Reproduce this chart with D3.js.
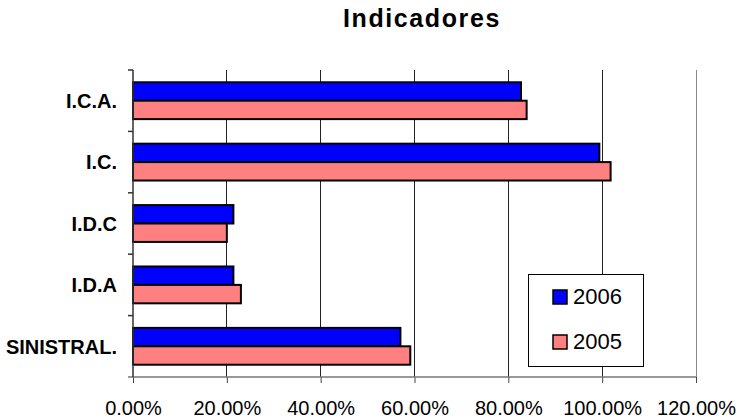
<!DOCTYPE html>
<html>
<head>
<meta charset="utf-8">
<script src="https://cdn.jsdelivr.net/npm/d3@7/dist/d3.min.js"></script>
<style>
  body { margin: 0; background: #fff; }
  svg { display: block; font-family: "Liberation Sans", Arial, sans-serif; }
</style>
</head>
<body>
<svg id="chart" width="742" height="419"></svg>
<script>
const categories = ["I.C.A.", "I.C.", "I.D.C", "I.D.A", "SINISTRAL."];
const seriesNames = ["2006", "2005"];
const values2006 = [0.827, 0.994, 0.214, 0.214, 0.570];
const values2005 = [0.839, 1.018, 0.200, 0.230, 0.591];
const tickValues = [0, 0.2, 0.4, 0.6, 0.8, 1.0, 1.2];
const tickLabels = ["0.00%", "20.00%", "40.00%", "60.00%", "80.00%", "100.00%", "120.00%"];
const colors = ["#0000FF", "#FF8080"];

(function () {
const svg = d3.select("#chart");
const pLeft = 133, pRight = 696, pTop = 70, pBottom = 377;

const x = d3.scaleLinear().domain([0, 1.2]).range([pLeft, pRight]);
const y = d3.scaleBand().domain(categories).range([pTop, pBottom]).paddingInner(0.4).paddingOuter(0.2);
const ySub = d3.scaleBand().domain(seriesNames).range([0, y.bandwidth()]);

// Title
svg.append("text").attr("x", 422).attr("y", 27).attr("text-anchor", "middle")
  .attr("font-size", 25).attr("font-weight", "bold").attr("letter-spacing", 1.6)
  .text("Indicadores");

// Gridlines
svg.append("g").selectAll("line").data(tickValues.slice(1)).join("line")
  .attr("x1", d => x(d)).attr("x2", d => x(d))
  .attr("y1", pTop).attr("y2", pBottom)
  .attr("stroke", (d, i, n) => i === n.length - 1 ? "#8a8a8a" : "#222")
  .attr("stroke-width", 1).attr("shape-rendering", "crispEdges");

// Bars
const data = [];
categories.forEach((c, i) => {
  data.push({ cat: c, s: seriesNames[0], v: values2006[i], col: colors[0] });
  data.push({ cat: c, s: seriesNames[1], v: values2005[i], col: colors[1] });
});
svg.append("g").selectAll("rect").data(data).join("rect")
  .attr("x", x(0)).attr("y", d => y(d.cat) + ySub(d.s))
  .attr("width", d => x(d.v) - x(0)).attr("height", ySub.bandwidth())
  .attr("fill", d => d.col).attr("stroke", "#000").attr("stroke-width", 2);

// X axis
const xAxis = d3.axisBottom(x).tickValues(tickValues).tickFormat((d, i) => tickLabels[i])
  .tickSize(6).tickSizeOuter(0);
const gx = svg.append("g").attr("transform", `translate(0,${pBottom})`).call(xAxis);
gx.select(".domain").remove();
gx.append("line").attr("x1", pLeft - 5).attr("x2", pRight).attr("y1", 0).attr("y2", 0)
  .attr("stroke", "#777").attr("stroke-width", 1.5);
gx.selectAll(".tick line").attr("stroke", "#444");
gx.selectAll(".tick text").attr("font-size", 20).attr("fill", "#000").attr("dy", 0).attr("y", 38)
  .attr("font-family", "'Liberation Sans', Arial, sans-serif");

// Y axis
const gy = svg.append("g");
gy.append("line").attr("x1", pLeft).attr("x2", pLeft).attr("y1", pTop).attr("y2", pBottom)
  .attr("stroke", "#333").attr("stroke-width", 1.5);
const bounds = categories.map((c, i) => pTop + i * (pBottom - pTop) / categories.length);
gy.selectAll("line.t").data(bounds).join("line").attr("class", "t")
  .attr("x1", pLeft - 5).attr("x2", pLeft).attr("y1", d => d).attr("y2", d => d)
  .attr("stroke", "#333").attr("stroke-width", 1.5);
gy.selectAll("text").data(categories).join("text")
  .attr("x", pLeft - 16).attr("y", d => y(d) + y.bandwidth() / 2).attr("dy", "0.36em")
  .attr("text-anchor", "end").attr("font-size", 20).attr("font-weight", "bold")
  .text(d => d);

// Legend
const lg = svg.append("g");
lg.append("rect").attr("x", 528.5).attr("y", 274.5).attr("width", 115).attr("height", 92)
  .attr("fill", "#fff").attr("stroke", "#000").attr("stroke-width", 1);
seriesNames.forEach((s, i) => {
  lg.append("rect").attr("x", 553).attr("y", 290 + i * 45).attr("width", 14).attr("height", 14)
    .attr("fill", colors[i]).attr("stroke", "#000").attr("stroke-width", 1.5);
  lg.append("text").attr("x", 573).attr("y", 304 + i * 45).attr("font-size", 22).text(s);
});
})();
</script>
</body>
</html>
